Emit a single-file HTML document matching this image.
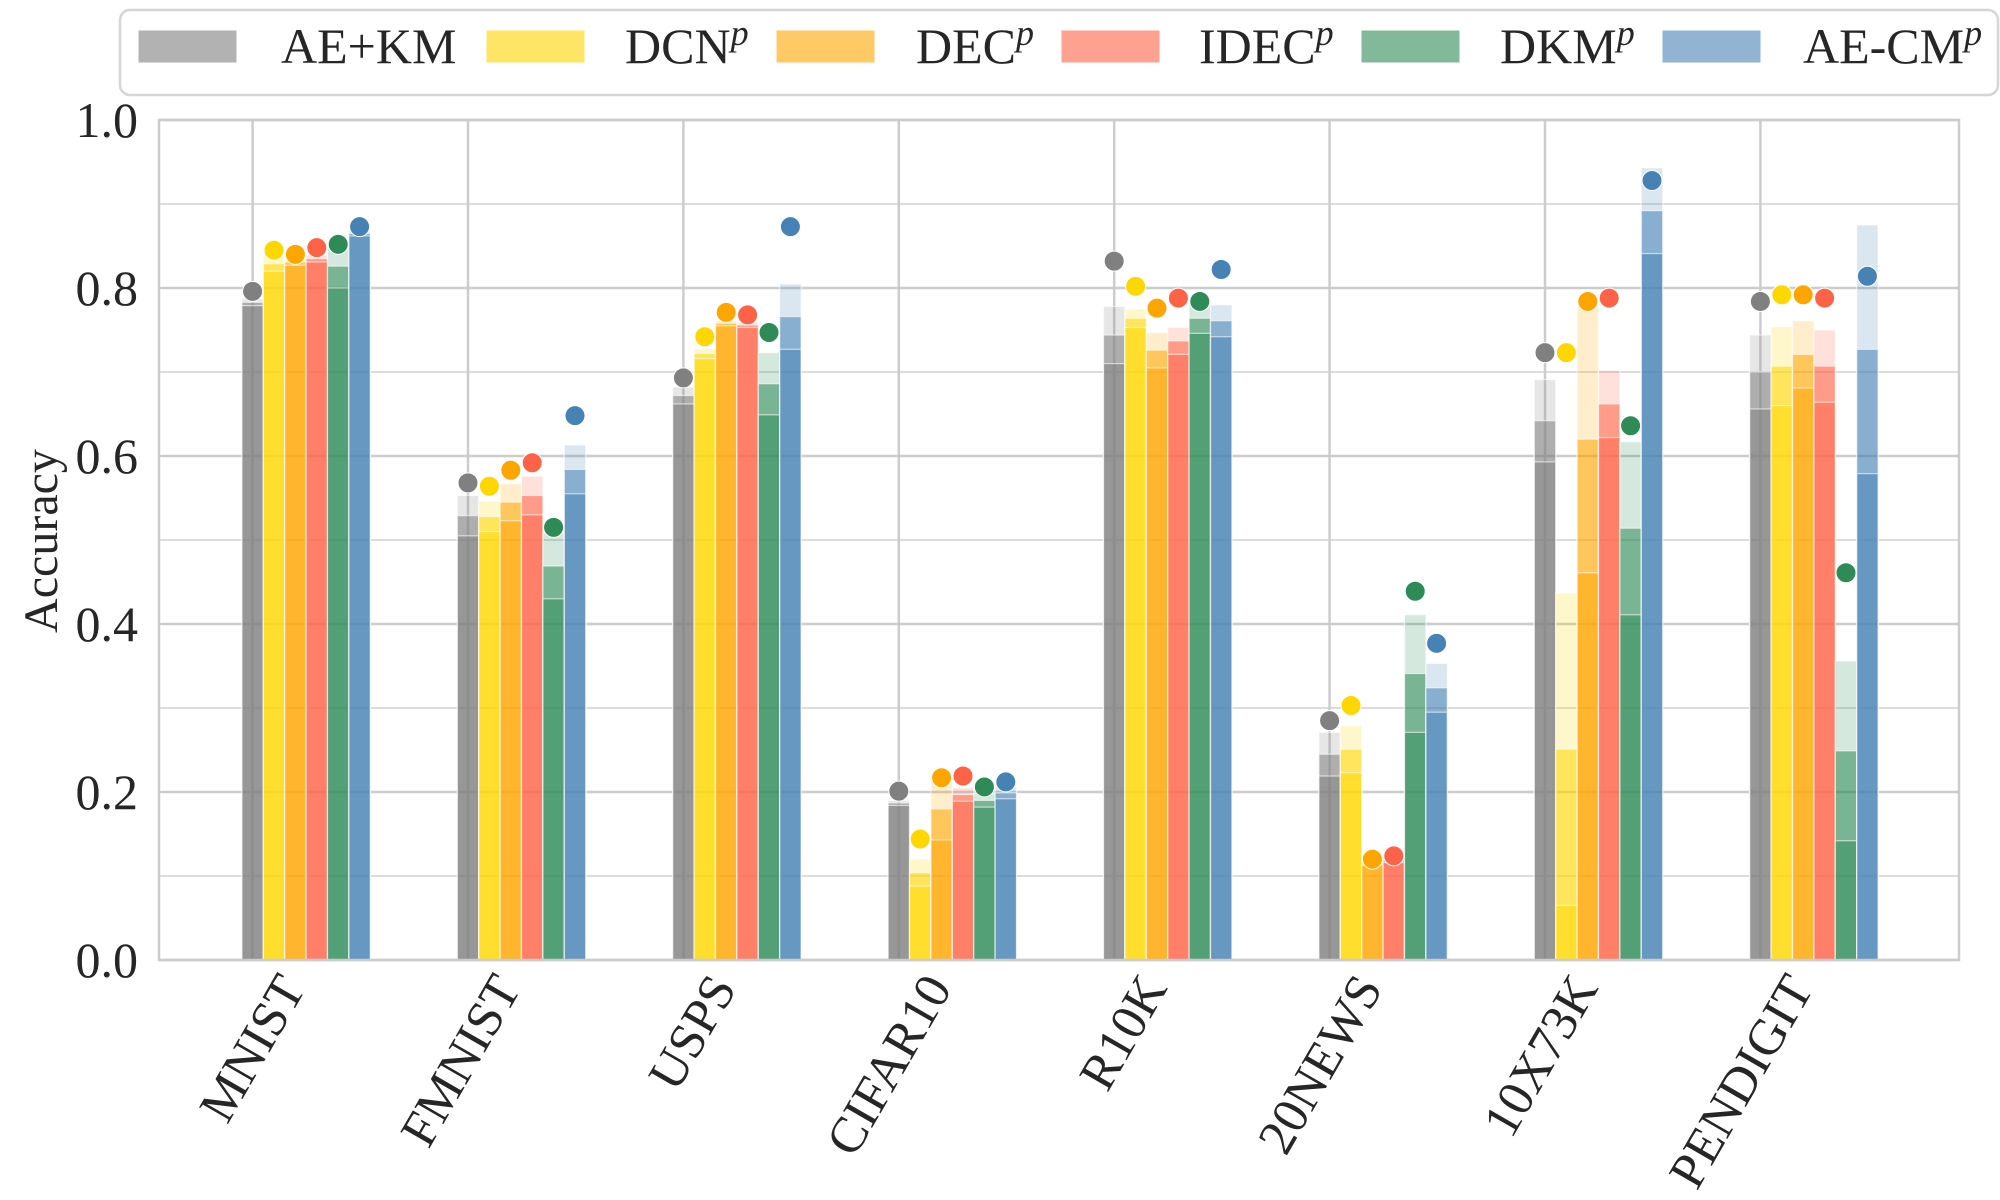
<!DOCTYPE html>
<html><head><meta charset="utf-8"><style>
html,body{margin:0;padding:0;background:#fff;}
svg{display:block;font-family:"Liberation Serif","Times New Roman",serif;}
svg text{font-family:"Liberation Serif","Times New Roman",serif;}
</style></head><body>
<svg id="chart" width="2000" height="1200" viewBox="0 0 2000 1200" xmlns="http://www.w3.org/2000/svg" font-family="Liberation Serif, serif">
<g id="grid"></g>
<g id="bars"></g>
<g id="dots"></g>
<rect x="159" y="120" width="1800" height="840" fill="none" stroke="#cccccc" stroke-width="2.5"/>
<g id="yticks"></g>
<g id="xticks"></g>
<text x="57" y="541" font-size="48" fill="#262626" text-anchor="middle" transform="rotate(-90 57 541)">Accuracy</text>
<g id="legend">
<rect x="120" y="10" width="1878" height="85" rx="10" fill="#fff" stroke="#d6d6d6" stroke-width="2.5"/>
</g>
</svg>
<script>
const categories = ["MNIST","FMNIST","USPS","CIFAR10","R10K","20NEWS","10X73K","PENDIGIT"];
const methods = ["AE+KM","DCN","DEC","IDEC","DKM","AE-CM"];
const superP = [false,true,true,true,true,true];
const yTicks = [0.0,0.2,0.4,0.6,0.8,1.0];
// mean accuracy per method (rows) per dataset (cols)
const meanAE  = [0.783,0.529,0.672,0.187,0.744,0.245,0.642,0.700];
const meanDCN = [0.829,0.528,0.722,0.104,0.764,0.251,0.251,0.707];
const meanDEC = [0.831,0.545,0.758,0.180,0.726,0.116,0.620,0.721];
const meanIDEC= [0.835,0.553,0.756,0.197,0.737,0.119,0.662,0.707];
const meanDKM = [0.826,0.469,0.686,0.190,0.764,0.341,0.514,0.249];
const meanACM = [0.865,0.584,0.766,0.199,0.761,0.324,0.892,0.727];
// standard deviations
const stdAE  = [0.004,0.024,0.010,0.003,0.034,0.026,0.049,0.044];
const stdDCN = [0.009,0.018,0.006,0.016,0.011,0.028,0.186,0.047];
const stdDEC = [0.004,0.022,0.003,0.037,0.021,0.003,0.159,0.040];
const stdIDEC= [0.004,0.023,0.003,0.008,0.016,0.003,0.040,0.043];
const stdDKM = [0.026,0.039,0.037,0.008,0.018,0.070,0.103,0.107];
const stdACM = [0.003,0.029,0.039,0.007,0.019,0.029,0.051,0.148];
// best run (dots)
const bestAE  = [0.796,0.568,0.693,0.201,0.832,0.285,0.723,0.784];
const bestDCN = [0.845,0.564,0.742,0.144,0.802,0.303,0.723,0.792];
const bestDEC = [0.840,0.583,0.771,0.217,0.776,0.120,0.784,0.792];
const bestIDEC= [0.848,0.592,0.768,0.219,0.788,0.124,0.788,0.788];
const bestDKM = [0.852,0.515,0.747,0.206,0.784,0.439,0.636,0.461];
const bestACM = [0.873,0.648,0.873,0.212,0.822,0.377,0.928,0.814];

const means=[meanAE,meanDCN,meanDEC,meanIDEC,meanDKM,meanACM];
const stds=[stdAE,stdDCN,stdDEC,stdIDEC,stdDKM,stdACM];
const bests=[bestAE,bestDCN,bestDEC,bestIDEC,bestDKM,bestACM];
const colors=["#808080","#FFD700","#FFA500","#FF6347","#2E8B57","#4682B4"];
const legendColors=["#b2b2b2","#ffe566","#ffc966","#ffa190","#82b99a","#90b4d2"];

const NS="http://www.w3.org/2000/svg";
const FONT="Liberation Serif, serif";
const X0=159,X1=1959,Y0=960,Y1=120;
const catStart=252.6, catStep=215.4, barW=21.4;
function yScale(v){return Y0-(v-0)/(1-0)*(Y0-Y1);}
function xCat(i){return catStart+i*catStep;}
function xBar(i,j){return xCat(i)+j*barW;}
function mk(tag,attrs,parent){const e=document.createElementNS(NS,tag);for(const k in attrs)e.setAttribute(k,attrs[k]);parent.appendChild(e);return e;}

const grid=document.getElementById('grid');
for(let k=0;k<=10;k++){
  const v=k/10;
  const l=mk('line',{x1:X0,x2:X1,y1:yScale(v),y2:yScale(v),stroke:k%2==0?'#cccccc':'#dcdcdc','stroke-width':k%2==0?2.5:2},grid);
  
  
}
categories.forEach((c,i)=>{
  const l=mk('line',{x1:xCat(i),x2:xCat(i),y1:Y1,y2:Y0,stroke:'#cccccc','stroke-width':2.5},grid);
  
  
});

const bars=document.getElementById('bars');
const dots=document.getElementById('dots');
for(let j=0;j<methods.length;j++){
  for(let i=0;i<categories.length;i++){
    const m=means[j][i], s=stds[j][i];
    const levels=[[m+s,0.2],[m,0.55],[m-s,0.5]];
    levels.forEach(([v,a],li)=>{
      const r=mk('rect',{x:xBar(i,j)-barW/2,y:yScale(v),width:barW,height:yScale(0)-yScale(v),fill:colors[j],'fill-opacity':a,stroke:'#ffffff','stroke-opacity':0.6,'stroke-width':1.2},bars);
      
      
    });
    const d=mk('circle',{cx:xBar(i,j),cy:yScale(bests[j][i]),r:10,fill:colors[j],stroke:'#ffffff','stroke-width':1},dots);
    
    
  }
}

const yt=document.getElementById('yticks');
yTicks.forEach(v=>{
  const t=mk('text',{x:138,y:yScale(v)+17,'font-size':50,'font-family':FONT,fill:'#262626','text-anchor':'end'},yt);
  t.textContent=v.toFixed(1);
  
  
});
const xt=document.getElementById('xticks');
categories.forEach((c,i)=>{
  const ax=xCat(i)+54, ay=988;
  const t=mk('text',{x:ax,y:ay,'font-size':51,'font-family':FONT,fill:'#262626','text-anchor':'end',transform:`rotate(-60 ${ax} ${ay})`},xt);
  t.textContent=c;
  
  
});

const lg=document.getElementById('legend');
const patchX=[138,486,776,1061,1361,1662];
const textX=[281,625,916,1199,1500,1803];
methods.forEach((m,j)=>{
  const p=mk('rect',{x:patchX[j],y:30,width:99,height:33,fill:legendColors[j],stroke:'#ffffff','stroke-width':1},lg);
  
  
  const t=mk('text',{x:textX[j],y:63,'font-size':50,'font-family':FONT,fill:'#262626'},lg);
  
  
  t.appendChild(document.createTextNode(m));
  if(superP[j]){
    const sp=document.createElementNS(NS,'tspan');
    sp.setAttribute('font-size','36');
    sp.setAttribute('font-style','italic');
    sp.setAttribute('dy','-18');
    sp.textContent='p';
    t.appendChild(sp);
  }
});
</script>
</body></html>
